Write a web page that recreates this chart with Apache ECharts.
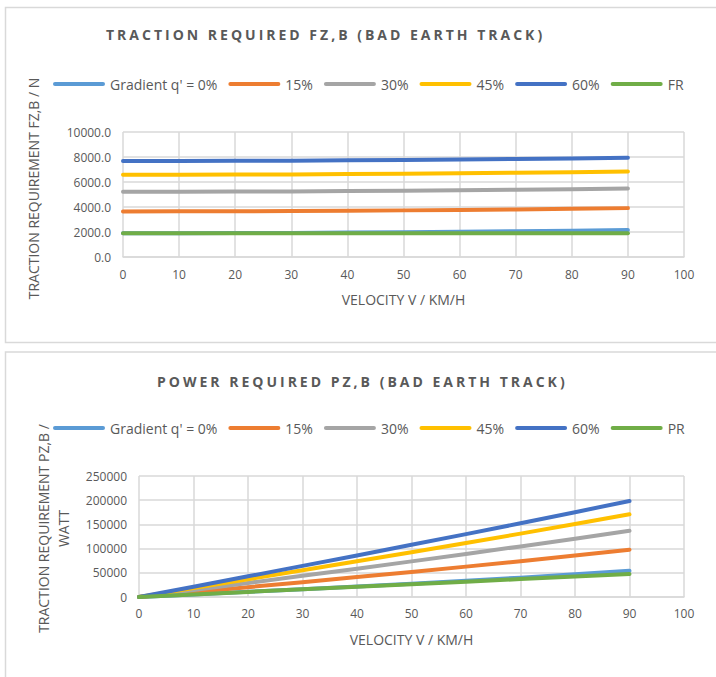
<!DOCTYPE html>
<html>
<head>
<meta charset="utf-8">
<script src="https://cdn.jsdelivr.net/npm/echarts@6/dist/echarts.min.js"></script>
<style>
  html, body { margin: 0; padding: 0; background: #ffffff; }
  #chart { width: 716px; height: 677px; }
  /* tracked, bold chart titles */
  #chart text[style*="bold"] { letter-spacing: 3px; }
</style>
</head>
<body>
<div id="chart"></div>
<script>
// Velocity steps (km/h)
const velocity = [0, 10, 20, 30, 40, 50, 60, 70, 80, 90];

// Traction requirement FZ,B in N, per gradient
const tractionQ0  = [1900, 1903, 1913, 1929, 1951, 1980, 2015, 2057, 2105, 2160];
const tractionQ15 = [3650, 3653, 3663, 3679, 3701, 3730, 3765, 3807, 3855, 3910];
const tractionQ30 = [5220, 5223, 5233, 5249, 5271, 5300, 5335, 5377, 5425, 5480];
const tractionQ45 = [6580, 6583, 6593, 6609, 6631, 6660, 6695, 6737, 6785, 6840];
const tractionQ60 = [7680, 7683, 7693, 7709, 7731, 7760, 7795, 7837, 7885, 7940];
const tractionFR  = [1900, 1900, 1900, 1900, 1900, 1900, 1900, 1900, 1900, 1900];

// Power requirement PZ,B in W, per gradient
const powerQ0  = [0, 5286, 10628, 16075, 21678, 27500, 33583, 39997, 46778, 54000];
const powerQ15 = [0, 10147, 20350, 30658, 41122, 51806, 62750, 74025, 85667, 97750];
const powerQ30 = [0, 14508, 29072, 43742, 58567, 73611, 88917, 104552, 120556, 137000];
const powerQ45 = [0, 18286, 36628, 55075, 73678, 92500, 111583, 130996, 150778, 171000];
const powerQ60 = [0, 21342, 42739, 64242, 85900, 107778, 129917, 152385, 175222, 198500];
const powerPR  = [0, 5278, 10556, 15833, 21111, 26389, 31667, 36944, 42222, 47500];

// Legend labels
const gradientNames = ["Gradient q' = 0%", '15%', '30%', '45%', '60%'];
const tractionBaseName = 'FR';
const powerBaseName = 'PR';

// Axis texts
const titleTraction = 'TRACTION REQUIRED FZ,B (BAD EARTH TRACK)';
const titlePower = 'POWER REQUIRED PZ,B (BAD EARTH TRACK)';
const xName = 'VELOCITY V / KM/H';
const yNameTraction = 'TRACTION REQUIREMENT FZ,B / N';
const yNamePower = 'TRACTION REQUIREMENT PZ,B /\nWATT';

const colors = ['#5B9BD5', '#ED7D31', '#A5A5A5', '#FFC000', '#4472C4', '#70AD47'];
const FONT = "'Open Sans', 'DejaVu Sans', sans-serif";
const TEXT = '#595959';
const GRIDLINE = '#D9D9D9';

function pairs(values) {
  return velocity.map((v, i) => [v, values[i]]);
}

function lineSeries(name, values, idx, color) {
  return {
    name: name,
    type: 'line',
    xAxisIndex: idx,
    yAxisIndex: idx,
    data: pairs(values),
    showSymbol: false,
    symbol: 'none',
    color: color,
    lineStyle: { width: 4, color: color, cap: 'round', join: 'round' },
    emphasis: { disabled: true },
    silent: true,
    z: 3
  };
}

const tractionSets = [tractionQ0, tractionQ15, tractionQ30, tractionQ45, tractionQ60, tractionFR];
const powerSets = [powerQ0, powerQ15, powerQ30, powerQ45, powerQ60, powerPR];
const tractionNames = gradientNames.concat([tractionBaseName]);
const powerNames = gradientNames.concat([powerBaseName]);

const series = [];
tractionSets.forEach((vals, i) => series.push(lineSeries(tractionNames[i], vals, 0, colors[i])));
powerSets.forEach((vals, i) => series.push(lineSeries(powerNames[i], vals, 1, colors[i])));

const legendIcon = 'path://M2,0 H50 A2,2 0 0 1 50,4 H2 A2,2 0 0 1 2,0 Z';

function legend(names, top) {
  return {
    data: names.map((n, i) => ({ name: n, itemStyle: { color: colors[i] } })),
    left: 53,
    top: top,
    padding: 0,
    itemWidth: 52,
    itemHeight: 4,
    itemGap: 11,
    icon: legendIcon,
    selectedMode: false,
    textStyle: { fontFamily: FONT, fontSize: 14, color: TEXT }
  };
}

function xAxis(gridIndex, labelMargin) {
  return {
    type: 'value',
    gridIndex: gridIndex,
    min: 0, max: 100, interval: 10,
    name: xName,
    nameLocation: 'middle',
    nameGap: 35,
    nameTextStyle: { fontFamily: FONT, fontSize: 14, color: TEXT },
    axisLine: { show: true, lineStyle: { color: GRIDLINE, width: 1.5 } },
    axisTick: { show: false },
    axisLabel: { fontFamily: FONT, fontSize: 12, color: TEXT, margin: labelMargin },
    splitLine: { show: true, lineStyle: { color: GRIDLINE, width: 1.5 } }
  };
}

function yAxis(gridIndex, max, interval, name, nameGap, formatter, lineHeight, shift) {
  return {
    type: 'value',
    gridIndex: gridIndex,
    min: 0, max: max, interval: interval,
    name: name,
    nameLocation: 'middle',
    nameGap: nameGap,
    nameTextStyle: {
      fontFamily: FONT, fontSize: 14, color: TEXT, lineHeight: lineHeight,
      padding: [0, 0, 0, shift]
    },
    axisLine: { show: false },
    axisTick: { show: false },
    axisLabel: { fontFamily: FONT, fontSize: 12, color: TEXT, margin: 12, formatter: formatter },
    splitLine: { show: true, lineStyle: { color: GRIDLINE, width: 1.5 } }
  };
}

const option = {
  backgroundColor: '#ffffff',
  animation: false,
  title: [
    {
      text: titleTraction,
      left: 106, top: 27, padding: 0,
      textStyle: { fontFamily: FONT, fontSize: 14, fontWeight: 'bold', color: TEXT }
    },
    {
      text: titlePower,
      left: 157, top: 374, padding: 0,
      textStyle: { fontFamily: FONT, fontSize: 14, fontWeight: 'bold', color: TEXT }
    }
  ],
  legend: [legend(tractionNames, 77), legend(powerNames, 421)],
  grid: [
    { left: 123, right: 32, top: 132, bottom: 420, containLabel: false },
    { left: 139, right: 32, top: 476, bottom: 80, containLabel: false }
  ],
  xAxis: [xAxis(0, 11), xAxis(1, 10)],
  yAxis: [
    yAxis(0, 10000, 2000, yNameTraction, 82, v => v.toFixed(1), 16, 12),
    yAxis(1, 250000, 50000, yNamePower, 66, v => String(v), 20, 16)
  ],
  graphic: [
    {
      type: 'rect', silent: true, z: -10,
      shape: { x: 5.5, y: 7.5, width: 730, height: 335 },
      style: { fill: '#ffffff', stroke: GRIDLINE, lineWidth: 1.5 }
    },
    {
      type: 'rect', silent: true, z: -10,
      shape: { x: 5.5, y: 352, width: 730, height: 345 },
      style: { fill: '#ffffff', stroke: GRIDLINE, lineWidth: 1.5 }
    }
  ],
  series: series
};

const chart = echarts.init(document.getElementById('chart'), null, { renderer: 'svg' });
chart.setOption(option);
</script>
</body>
</html>
